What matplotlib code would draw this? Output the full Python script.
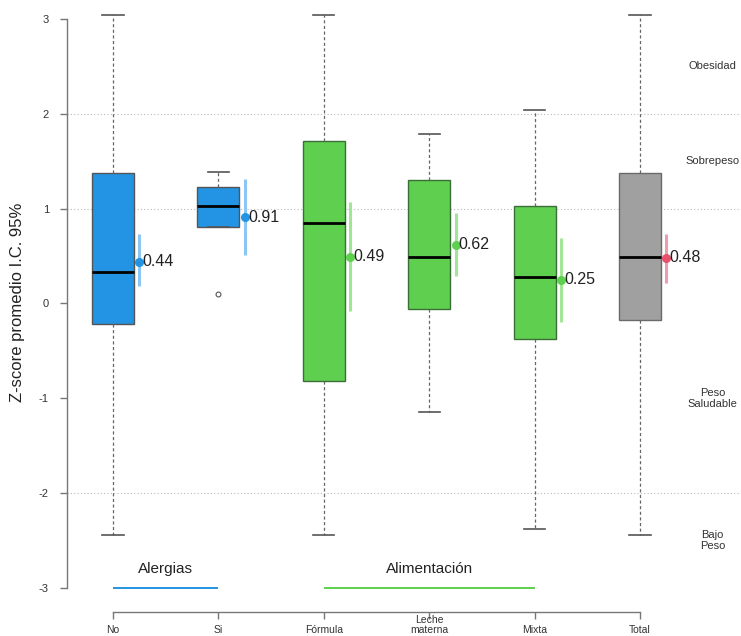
import matplotlib
matplotlib.use("Agg")
import matplotlib.pyplot as plt
import numpy as np

plt.rcParams['font.family'] = ['Liberation Sans', 'DejaVu Sans']

categories = ["No", "Si", "Fórmula", "Leche\nmaterna", "Mixta", "Total"]
q1 = [-0.22, 0.81, -0.82, -0.06, -0.37, -0.17]
med = [0.335, 1.03, 0.845, 0.49, 0.28, 0.49]
q3 = [1.375, 1.23, 1.71, 1.305, 1.027, 1.375]
whislo = [-2.44, 0.81, -2.44, -1.14, -2.38, -2.44]
whishi = [3.04, 1.39, 3.04, 1.786, 2.04, 3.04]
fliers = [[], [0.097], [], [], [], []]
means = [0.44, 0.91, 0.49, 0.62, 0.25, 0.48]
ci_lo = [0.18, 0.51, -0.08, 0.29, -0.19, 0.22]
ci_hi = [0.73, 1.31, 1.07, 0.95, 0.69, 0.73]

groups = ["Alergias", "Alimentación"]
group_span = [(1, 2), (3, 5)]
zones = ["Obesidad", "Sobrepeso", "Peso\nSaludable", "Bajo\nPeso"]
zone_y = [2.5, 1.5, -1.0, -2.5]
grid_y = [2, 1, -2]

box_colors = ["#2394E3", "#2394E3", "#5ECF4E", "#5ECF4E", "#5ECF4E", "#A0A0A0"]
edge_colors = ["#555555", "#555555", "#3C6E38", "#3C6E38", "#3C6E38", "#6A6A6A"]
mean_colors = ["#2394E3", "#2394E3", "#5ECF4E", "#5ECF4E", "#5ECF4E", "#E8506C"]
ci_colors = ["#8CC7F3", "#8CC7F3", "#A2E596", "#A2E596", "#A2E596", "#EE9DB0"]
group_colors = ["#2394E3", "#5ECF4E"]

W, H = 741, 636
fig = plt.figure(figsize=(W / 100, H / 100), dpi=100)
left_px, bottom_px = 67, 636 - 611.7
ax = fig.add_axes([left_px / W, bottom_px / H, 1 - left_px / W, 1 - bottom_px / H])

pos = np.arange(1, len(categories) + 1)
ax.set_xlim(0.5636, 6.958)
ax.set_ylim(-3.248, 3.198)

for gy in grid_y:
    ax.axhline(gy, color="#BBBBBB", lw=0.8, ls=(0, (1, 2)), zorder=0)

stats = []
for i in range(len(categories)):
    stats.append(dict(med=med[i], q1=q1[i], q3=q3[i], whislo=whislo[i],
                      whishi=whishi[i], fliers=fliers[i], label=categories[i]))

bp = ax.bxp(stats, positions=pos, widths=0.4, capwidths=0.2, patch_artist=True,
            showfliers=True, manage_ticks=False,
            medianprops=dict(color="black", lw=2),
            whiskerprops=dict(color="#666666", lw=0.9, ls=(0, (2.5, 2))),
            capprops=dict(color="#555555", lw=1.2),
            flierprops=dict(marker="o", markersize=3.5, markerfacecolor="white",
                            markeredgecolor="#555555", markeredgewidth=0.8))
for i, b in enumerate(bp["boxes"]):
    b.set_facecolor(box_colors[i])
    b.set_edgecolor(edge_colors[i])
    b.set_linewidth(1.0)
    b.set_zorder(2)
for m in bp["medians"]:
    m.set_zorder(3)

off = 0.25
for i in range(len(categories)):
    x = pos[i] + off
    ax.plot([x, x], [ci_lo[i], ci_hi[i]], color=ci_colors[i], lw=2.2,
            solid_capstyle="butt", zorder=4)
    ax.plot([x], [means[i]], "o", color=mean_colors[i], markersize=5.5, zorder=5)
    ax.text(x + 0.03, means[i], f"{means[i]:.2f}", fontsize=11.5, color="#222222",
            va="center", ha="left", zorder=6)

for g, (a, b), c in zip(groups, group_span, group_colors):
    ax.plot([a, b], [-3, -3], color=c, lw=1.4, zorder=3, solid_capstyle="butt")
    ax.text((a + b) / 2, -2.8, g, fontsize=11, color="#222222", ha="center", va="center")

for z, zy in zip(zones, zone_y):
    ax.text(6.69, zy, z, fontsize=8, color="#333333", ha="center", va="center",
            linespacing=1.1)

for s in ["top", "right"]:
    ax.spines[s].set_visible(False)
ax.spines["left"].set_bounds(-3, 3)
ax.spines["bottom"].set_bounds(1, 6)
for s in ["left", "bottom"]:
    ax.spines[s].set_color("#777777")
    ax.spines[s].set_linewidth(1.0)

ax.set_yticks([-3, -2, -1, 0, 1, 2, 3])
ax.set_yticklabels([str(v) for v in [-3, -2, -1, 0, 1, 2, 3]])
ax.tick_params(axis="y", length=5, width=1, color="#777777", labelsize=8,
               labelcolor="#333333", pad=8)
ax.set_xticks(pos)
ax.set_xticklabels([])
ax.tick_params(axis="x", length=5, width=1, color="#777777")
for i, c in enumerate(categories):
    ax.text(pos[i], -3.49, c, fontsize=7.5, color="#333333", ha="center", va="bottom",
            linespacing=1.0, clip_on=False)

ax.set_ylabel("Z-score promedio I.C. 95%", fontsize=12, color="#222222", va="center")
ax.yaxis.set_label_coords((18 - left_px) / (W - left_px), (611.7 - 302) / 611.7)

fig.savefig("out.png", dpi=100)
